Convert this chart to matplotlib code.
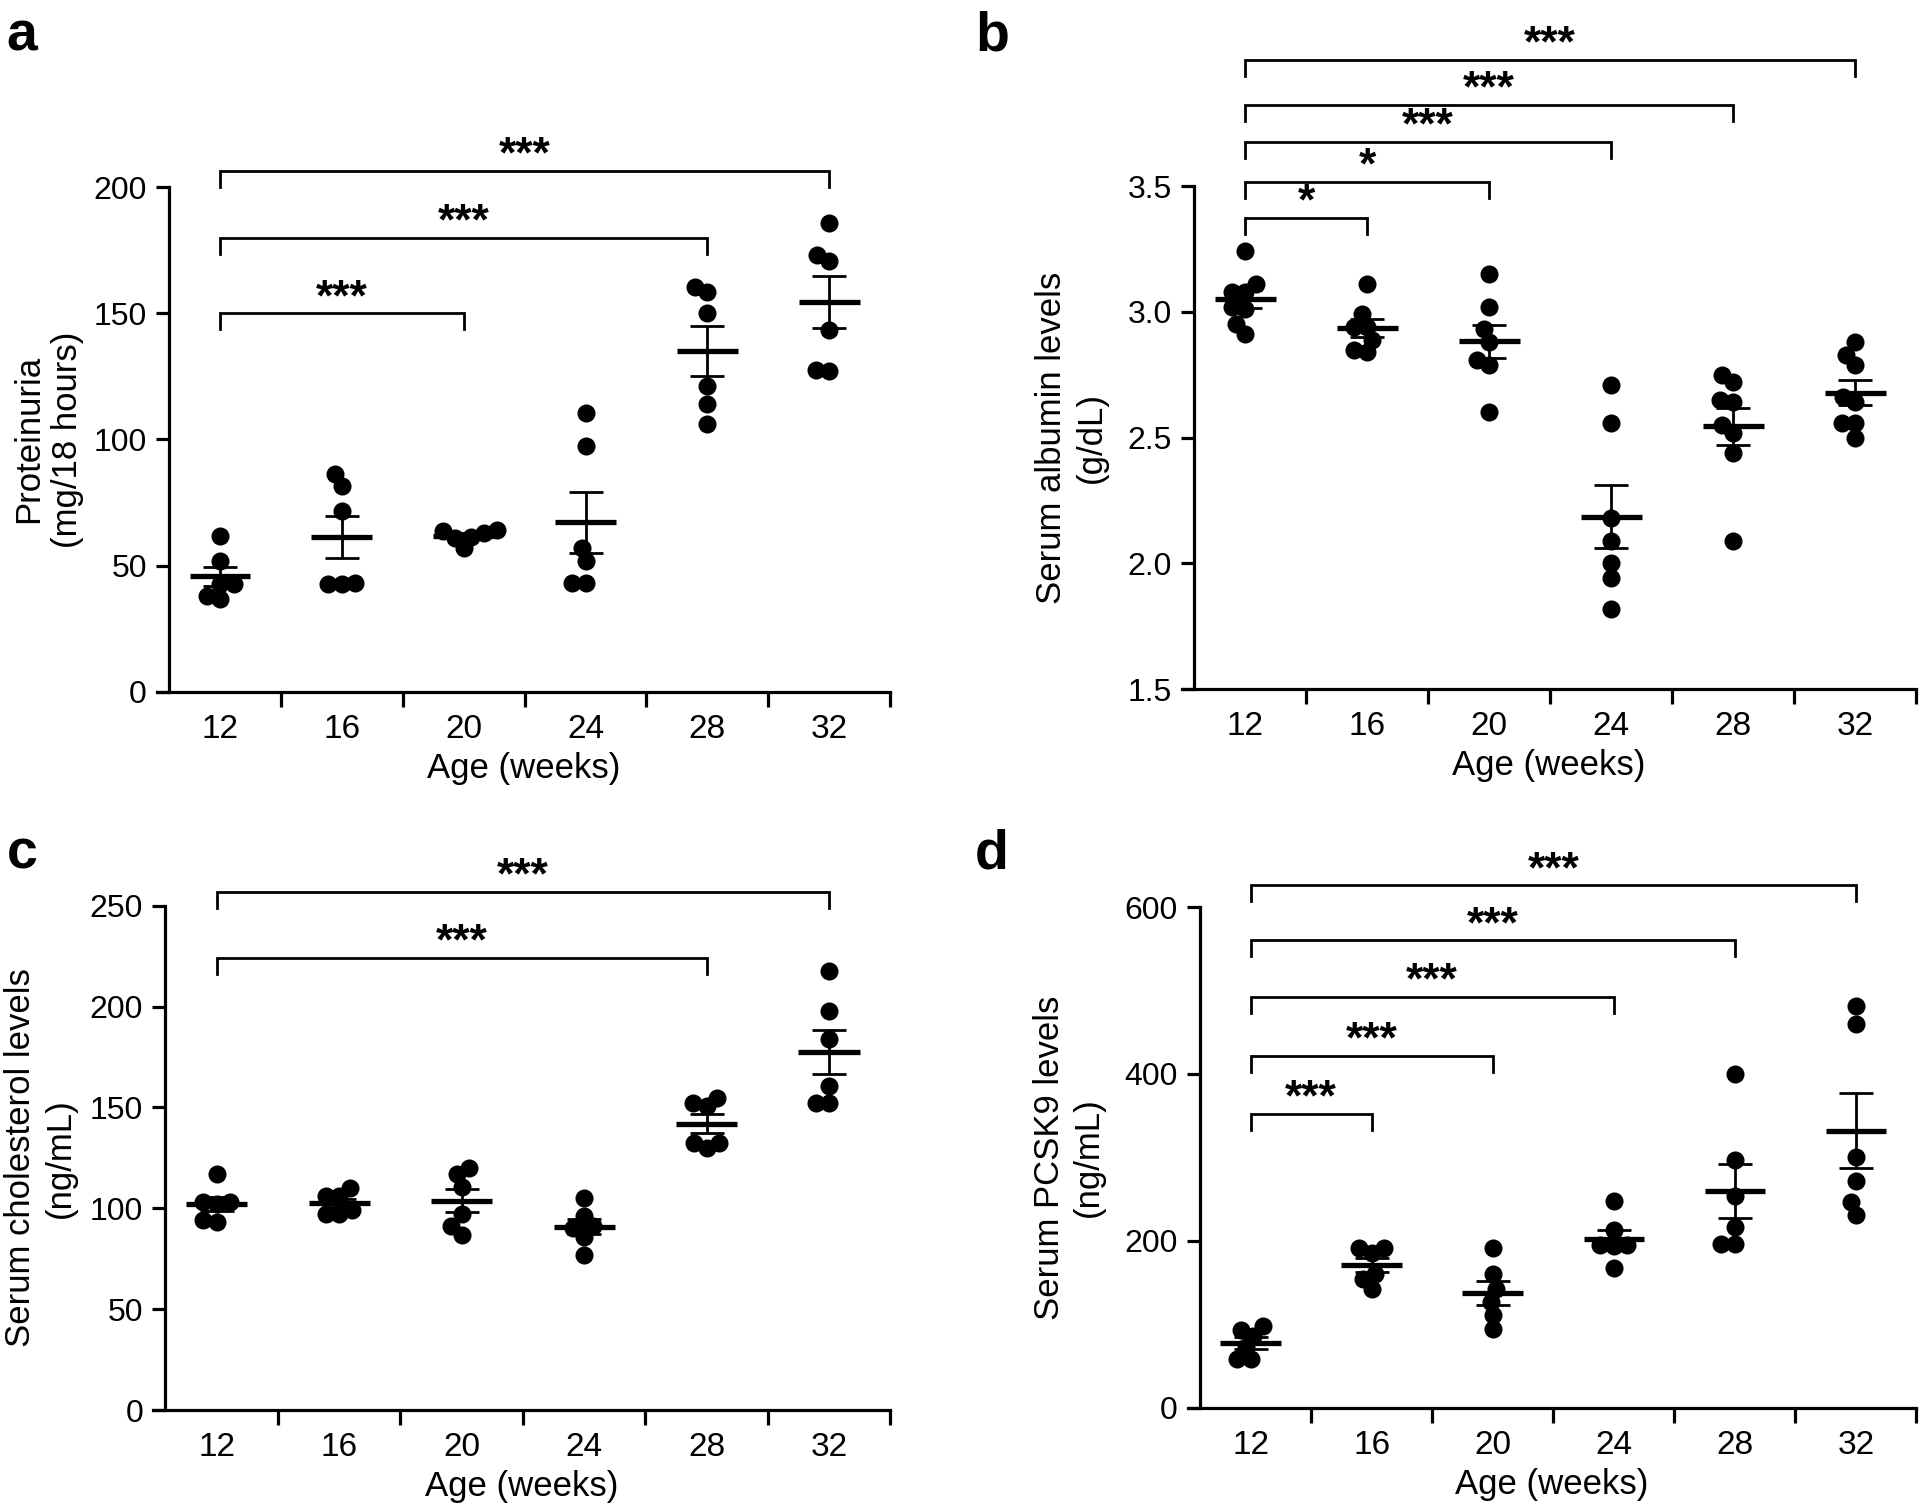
import numpy as np
import matplotlib
matplotlib.use('Agg')
import matplotlib.pyplot as plt

plt.rcParams['font.family'] = ['Liberation Sans', 'DejaVu Sans']

# Data (one list per age group)
weeks = ['12', '16', '20', '24', '28', '32']

proteinuria = [
    [61.7, 51.8, 42.7, 42.7, 36.9, 38.1],
    [86.1, 81.5, 71.6, 42.7, 43.0, 42.7],
    [64.0, 63.0, 61.5, 63.5, 57.0, 61.0],
    [110.5, 97.5, 57.0, 51.8, 43.0, 43.0],
    [158.5, 160.3, 150.0, 121.0, 114.0, 106.0],
    [186.0, 173.0, 170.7, 143.3, 127.0, 127.6],
]
albumin = [
    [3.24, 3.08, 3.08, 3.11, 3.01, 3.02, 2.95, 2.91],
    [3.11, 2.99, 2.94, 2.94, 2.84, 2.85, 2.89],
    [3.15, 3.02, 2.93, 2.88, 2.81, 2.79, 2.60],
    [2.71, 2.56, 2.18, 2.09, 2.00, 1.94, 1.82],
    [2.72, 2.75, 2.64, 2.65, 2.52, 2.55, 2.44, 2.09],
    [2.88, 2.83, 2.79, 2.64, 2.66, 2.56, 2.56, 2.50],
]
cholesterol = [
    [117, 103, 103, 102, 93, 94],
    [110, 106, 106, 97.4, 99, 97.4],
    [120, 117, 110.8, 97, 91.2, 87],
    [105.2, 96.3, 91.2, 90.1, 86, 77.1],
    [154.7, 150.6, 152, 130, 132.4, 132.4],
    [217.6, 198, 184, 160.7, 152.4, 152.4],
]
pcsk9 = [
    [97.9, 92.9, 86.3, 72.8, 57.7, 57.7],
    [191.8, 185.7, 191.8, 160.6, 154.1, 141.6],
    [191.8, 160.6, 141.6, 126.5, 110.4, 93.9],
    [247.5, 213.4, 194.8, 194.8, 193.3, 167.2],
    [400.1, 297.2, 253.5, 216.9, 195.8, 195.8],
    [480.9, 459.3, 300.2, 272.1, 246.0, 230.9],
]

# significance brackets: (group compared with 12 wk, bracket height, stars)
brackets_a = [(2, 150, '***'), (4, 180, '***'), (5, 206.5, '***')]
brackets_b = [(1, 3.375, '*'), (2, 3.518, '*'), (3, 3.674, '***'),
              (4, 3.821, '***'), (5, 4.0, '***')]
brackets_c = [(4, 224, '***'), (5, 257, '***')]
brackets_d = [(1, 352, '***'), (2, 422, '***'), (3, 492, '***'),
              (4, 560, '***'), (5, 626, '***')]

W, H = 1920, 1508
DPI = 100
fig = plt.figure(figsize=(W / DPI, H / DPI), dpi=DPI)

XMIN, XMAX = -0.52, 5.5
MARKER_PX = 18.0
FS = 25       # axis titles
FS_TICK = 23  # tick labels


def swarm(vals, dx, dy):
    # simple beeswarm: lowest value first, nearest free slot to the centre
    order = np.argsort(vals)
    placed = []
    offs = np.zeros(len(vals))
    for i in order:
        v = vals[i]
        cands = [0.0]
        for px, pv in placed:
            t = (v - pv) / dy
            if abs(t) < 1:
                w = np.sqrt(1 - t * t) * dx
                cands += [px - w, px + w]
        cands.sort(key=abs)
        for c in cands:
            ok = all(((c - px) / dx) ** 2 + ((v - pv) / dy) ** 2 >= 0.999
                     for px, pv in placed)
            if ok:
                break
        placed.append((c, v))
        offs[i] = c
    return offs


def panel(rect, groups, brackets, ylim, yticks, ylabels, ylabel, lab_x, letter, letter_xy):
    ax = fig.add_axes(rect)
    ax.set_xlim(XMIN, XMAX)
    ax.set_ylim(*ylim)
    ax_w = rect[2] * W
    ax_h = rect[3] * H
    dx = MARKER_PX / (ax_w / (XMAX - XMIN))
    dy = MARKER_PX / (ax_h / (ylim[1] - ylim[0]))

    for i, g in enumerate(groups):
        g = np.array(g, dtype=float)
        # points may overlap a little, as in the original
        xs = i + swarm(g, dx * 0.75, dy * 0.75)
        ax.plot(xs, g, 'o', color='black', ms=13, mew=0, zorder=3, clip_on=False)
        m = g.mean()
        sem = g.std(ddof=1) / np.sqrt(len(g))
        ax.plot([i - 0.25, i + 0.25], [m, m], color='black', lw=3.8,
                solid_capstyle='butt', zorder=4)
        ax.errorbar([i], [m], yerr=[sem], fmt='none', ecolor='black',
                    elinewidth=2.0, capsize=12, capthick=2.0, zorder=4)

    drop = 16.0 / ax_h * (ylim[1] - ylim[0])
    for j, yb, stars in brackets:
        ax.plot([0, 0, j, j], [yb - drop, yb, yb, yb - drop], color='black',
                lw=2.0, clip_on=False, solid_joinstyle='miter')
        ax.annotate(stars, (j / 2, yb), xytext=(0, -4), textcoords='offset points',
                    ha='center', va='bottom', fontsize=32, fontweight='bold',
                    annotation_clip=False)

    for s in ['top', 'right']:
        ax.spines[s].set_visible(False)
    ax.spines['left'].set_position(('data', -0.42))
    for s in ['left', 'bottom']:
        ax.spines[s].set_linewidth(2.3)

    ax.set_yticks(yticks)
    ax.set_yticklabels(ylabels)
    ax.set_xticks([0.5, 1.5, 2.5, 3.5, 4.5, 5.5])
    ax.set_xticklabels([])
    ax.set_xticks(range(len(weeks)), weeks, minor=True)
    ax.tick_params(axis='y', length=9.4, width=2.3, labelsize=FS_TICK, pad=6.5)
    ax.tick_params(axis='x', which='major', length=11, width=2.3)
    ax.tick_params(axis='x', which='minor', length=0, labelsize=FS_TICK + 1, pad=16)
    ax.set_xlabel('Age (weeks)', fontsize=FS, labelpad=5)
    ax.text(lab_x, 0.5, ylabel, transform=ax.transAxes, rotation=90,
            ha='center', va='center', fontsize=FS, multialignment='center',
            linespacing=1.25)
    fig.text(letter_xy[0], letter_xy[1], letter, fontsize=40, fontweight='bold',
             ha='center', va='center')
    return ax


panel([0.0816, 0.5414, 0.382, 0.3344], proteinuria, brackets_a, (0, 200),
      [0, 50, 100, 150, 200], ['0', '50', '100', '150', '200'],
      'Proteinuria\n(mg/18 hours)', -0.148, 'a', (0.0115, 0.9756))
panel([0.6154, 0.543, 0.3827, 0.3336], albumin, brackets_b, (1.5, 3.5),
      [1.5, 2.0, 2.5, 3.0, 3.5], ['1.5', '2.0', '2.5', '3.0', '3.5'],
      'Serum albumin levels\n(g/dL)', -0.150, 'b', (0.5166, 0.9756))
panel([0.0797, 0.0649, 0.384, 0.3345], cholesterol, brackets_c, (0, 250),
      [0, 50, 100, 150, 200, 250], ['0', '50', '100', '150', '200', '250'],
      'Serum cholesterol levels\n(ng/mL)', -0.153, 'c', (0.0115, 0.4334))
panel([0.6186, 0.0666, 0.3795, 0.3319], pcsk9, brackets_d, (0, 600),
      [0, 200, 400, 600], ['0', '200', '400', '600'],
      'Serum PCSK9 levels\n(ng/mL)', -0.163, 'd', (0.5166, 0.4334))

fig.savefig('out.png', dpi=DPI)
